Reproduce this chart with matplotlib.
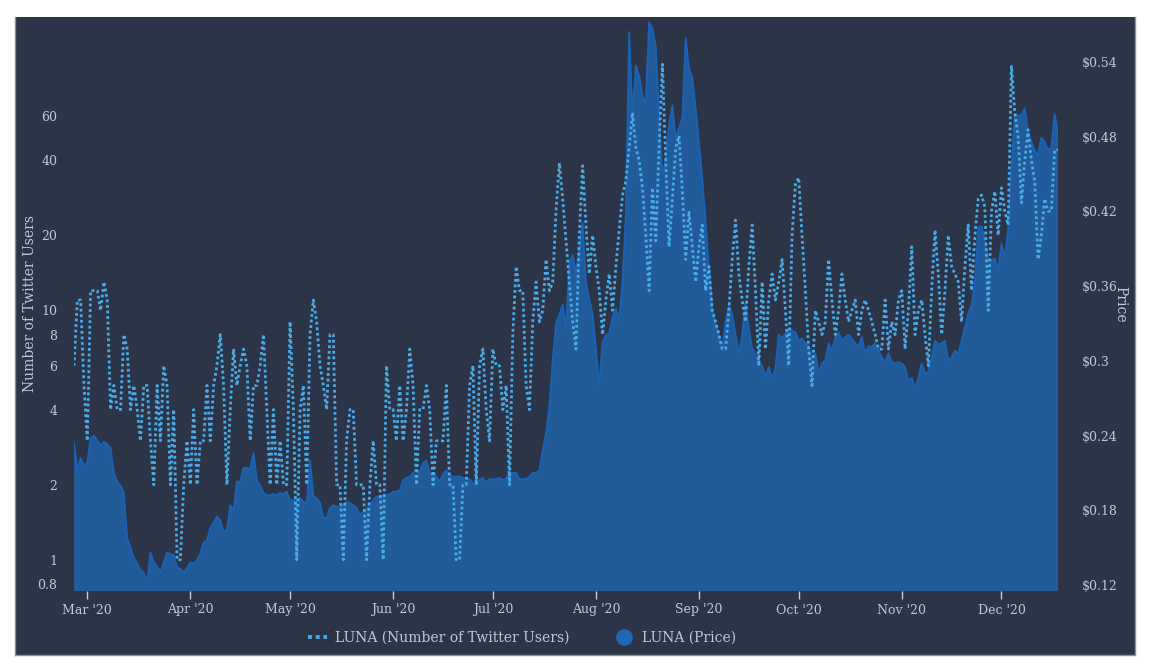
import matplotlib
matplotlib.use("Agg")
import matplotlib.pyplot as plt
from matplotlib.patches import Rectangle
from matplotlib.lines import Line2D
import pandas as pd

start_date = "2020-02-26"

twitter_users = [
    6, 11, 11, 5, 3, 12, 12, 12, 10, 13, 11, 4, 5, 4, 4, 8, 7, 4, 5, 4,
    3, 5, 5, 3, 2, 5, 3, 6, 5, 2, 4, 1, 1, 2, 3, 2, 4, 2, 3, 3,
    5, 3, 5, 6, 8, 5, 2, 4, 7, 5, 6, 7, 6, 3, 5, 5, 6, 8, 4, 2,
    4, 2, 3, 2, 2, 9, 4, 1, 4, 5, 2, 8, 11, 9, 6, 5, 4, 8, 8, 2,
    2, 1, 3, 4, 4, 2, 2, 2, 1, 2, 3, 2, 2, 1, 6, 4, 4, 3, 5, 3,
    4, 7, 5, 2, 4, 4, 5, 4, 2, 3, 3, 3, 5, 2, 2, 1, 1, 2, 2, 5,
    6, 2, 6, 7, 4, 3, 7, 6, 6, 4, 5, 2, 8, 15, 12, 12, 5, 4, 9, 13,
    9, 10, 16, 12, 13, 25, 39, 28, 19, 13, 9, 7, 20, 38, 22, 14, 20, 15, 12, 8,
    11, 14, 10, 15, 21, 29, 33, 45, 62, 45, 40, 31, 20, 12, 31, 19, 45, 97, 40, 18,
    28, 45, 50, 30, 16, 25, 18, 13, 18, 22, 12, 15, 10, 9, 8, 7, 7, 10, 16, 23,
    14, 11, 9, 15, 22, 12, 6, 13, 7, 11, 14, 11, 13, 16, 10, 6, 20, 32, 34, 20,
    12, 7, 5, 10, 9, 8, 9, 16, 11, 8, 10, 14, 11, 9, 10, 11, 8, 10, 11, 10,
    9, 8, 7, 7, 11, 7, 9, 8, 11, 12, 7, 10, 18, 8, 10, 11, 8, 6, 12, 21,
    14, 8, 12, 20, 15, 14, 13, 9, 15, 22, 12, 20, 28, 29, 26, 10, 25, 30, 20, 31,
    25, 22, 95, 62, 50, 27, 40, 53, 40, 33, 16, 20, 28, 25, 25, 44, 44,
]

price_usd = [
    0.234, 0.212, 0.222, 0.216, 0.218, 0.238, 0.240, 0.236, 0.232, 0.235,
    0.233, 0.230, 0.210, 0.203, 0.200, 0.194, 0.158, 0.150, 0.142, 0.137,
    0.132, 0.130, 0.122, 0.146, 0.138, 0.135, 0.130, 0.138, 0.146, 0.145,
    0.144, 0.134, 0.133, 0.130, 0.134, 0.138, 0.137, 0.140, 0.145, 0.154,
    0.156, 0.166, 0.170, 0.175, 0.172, 0.163, 0.164, 0.184, 0.180, 0.203,
    0.203, 0.214, 0.214, 0.213, 0.226, 0.204, 0.200, 0.194, 0.192, 0.192,
    0.193, 0.192, 0.194, 0.193, 0.195, 0.188, 0.188, 0.188, 0.190, 0.187,
    0.186, 0.220, 0.191, 0.190, 0.186, 0.174, 0.174, 0.182, 0.184, 0.183,
    0.182, 0.184, 0.187, 0.186, 0.184, 0.182, 0.176, 0.179, 0.181, 0.184,
    0.188, 0.191, 0.191, 0.192, 0.192, 0.193, 0.195, 0.195, 0.196, 0.204,
    0.206, 0.207, 0.210, 0.207, 0.211, 0.218, 0.220, 0.210, 0.209, 0.207,
    0.203, 0.209, 0.212, 0.208, 0.207, 0.207, 0.207, 0.206, 0.206, 0.205,
    0.202, 0.200, 0.205, 0.206, 0.202, 0.205, 0.205, 0.205, 0.206, 0.204,
    0.206, 0.210, 0.210, 0.210, 0.205, 0.205, 0.205, 0.207, 0.210, 0.210,
    0.212, 0.228, 0.242, 0.263, 0.300, 0.330, 0.337, 0.345, 0.326, 0.379,
    0.385, 0.371, 0.390, 0.411, 0.363, 0.350, 0.337, 0.310, 0.280, 0.315,
    0.321, 0.322, 0.335, 0.342, 0.333, 0.363, 0.417, 0.564, 0.497, 0.537,
    0.529, 0.513, 0.507, 0.572, 0.567, 0.552, 0.497, 0.449, 0.462, 0.489,
    0.505, 0.479, 0.487, 0.495, 0.559, 0.535, 0.527, 0.503, 0.475, 0.446,
    0.411, 0.374, 0.342, 0.329, 0.321, 0.310, 0.331, 0.345, 0.337, 0.321,
    0.305, 0.321, 0.347, 0.326, 0.310, 0.305, 0.299, 0.296, 0.287, 0.295,
    0.286, 0.294, 0.321, 0.318, 0.322, 0.326, 0.324, 0.323, 0.316, 0.318,
    0.314, 0.312, 0.303, 0.306, 0.290, 0.298, 0.300, 0.314, 0.308, 0.319,
    0.323, 0.316, 0.319, 0.321, 0.318, 0.314, 0.312, 0.319, 0.306, 0.312,
    0.311, 0.314, 0.308, 0.303, 0.299, 0.306, 0.299, 0.298, 0.299, 0.298,
    0.295, 0.284, 0.286, 0.278, 0.286, 0.298, 0.290, 0.291, 0.303, 0.316,
    0.313, 0.314, 0.316, 0.300, 0.303, 0.308, 0.306, 0.316, 0.327, 0.338,
    0.345, 0.362, 0.407, 0.408, 0.397, 0.382, 0.381, 0.382, 0.373, 0.394,
    0.383, 0.405, 0.455, 0.498, 0.497, 0.497, 0.503, 0.483, 0.476, 0.469,
    0.465, 0.479, 0.476, 0.469, 0.472, 0.498, 0.483,
]

left_ticks = [0.8, 1, 2, 4, 6, 8, 10, 20, 40, 60]
left_tick_labels = ["0.8", "1", "2", "4", "6", "8", "10", "20", "40", "60"]
right_ticks = [0.12, 0.18, 0.24, 0.30, 0.36, 0.42, 0.48, 0.54]
right_tick_labels = ["$0.12", "$0.18", "$0.24", "$0.3", "$0.36", "$0.42", "$0.48", "$0.54"]
month_ticks = ["2020-03-01", "2020-04-01", "2020-05-01", "2020-06-01", "2020-07-01",
               "2020-08-01", "2020-09-01", "2020-10-01", "2020-11-01", "2020-12-01"]
month_labels = ["Mar '20", "Apr '20", "May '20", "Jun '20", "Jul '20",
                "Aug '20", "Sep '20", "Oct '20", "Nov '20", "Dec '20"]

n = min(len(twitter_users), len(price_usd))
dates = pd.date_range(start_date, periods=n, freq="D")

BG = "#2c3548"
TXT = "#c3c8d2"
FILL = "#215b99"
EDGE = "#1a62b6"
DOT = "#4aaae8"
FONT = "DejaVu Serif"

W, H = 1162, 668
fig = plt.figure(figsize=(W / 100, H / 100), dpi=100, facecolor="white")
fig.patches.append(Rectangle((15 / W, 1 - 655 / H), 1120 / W, 638 / H,
                             transform=fig.transFigure, facecolor=BG,
                             edgecolor="none", zorder=-5))
# thin border on left, right and bottom of the panel
for xs, ys in (((15, 15), (17, 655)), ((1135, 1135), (17, 655)), ((15, 1135), (655, 655))):
    fig.add_artist(Line2D([x / W for x in xs], [1 - y / H for y in ys],
                          transform=fig.transFigure, color="#8c919b", linewidth=1.0, zorder=-4))

left, right, top, bottom = 74, 1058, 17, 591
ax_p = fig.add_axes([left / W, 1 - bottom / H, (right - left) / W, (bottom - top) / H])
ax_p.set_zorder(1)
ax_p.set_facecolor(BG)
ax_p.fill_between(dates, price_usd[:n], 0, color=FILL, linewidth=0, zorder=1)
ax_p.plot(dates, price_usd[:n], color=EDGE, linewidth=1.3, zorder=2)

ax_t = ax_p.twinx()
ax_t.set_zorder(2)
ax_t.patch.set_visible(False)
ax_t.set_yscale("log")
ax_t.plot(dates, twitter_users[:n], color=DOT, linewidth=2.0,
          linestyle=(0, (1, 1)), dash_capstyle="butt", zorder=3)

# price axis on the right
ax_p.set_ylim(0.1152, 0.576)
ax_p.yaxis.tick_right()
ax_p.yaxis.set_label_position("right")
ax_p.set_yticks(right_ticks)
ax_p.set_yticklabels(right_tick_labels)
ax_p.tick_params(axis="y", which="both", left=False, labelleft=False,
                 right=False, labelright=True, length=0, pad=17,
                 labelcolor=TXT, labelsize=9)
ax_p.set_ylabel("Price", rotation=270, color=TXT, fontsize=10, family=FONT,
                labelpad=7)

# twitter axis on the left
ax_t.yaxis.tick_left()
ax_t.yaxis.set_label_position("left")
ax_t.set_ylim(0.75, 150)
ax_t.yaxis.set_major_locator(matplotlib.ticker.FixedLocator(left_ticks))
ax_t.yaxis.set_minor_locator(matplotlib.ticker.NullLocator())
ax_t.set_yticklabels(left_tick_labels)
ax_t.tick_params(axis="y", which="both", right=False, labelright=False,
                 left=False, labelleft=True, length=0, pad=12,
                 labelcolor=TXT, labelsize=9)
ax_t.set_ylabel("Number of Twitter Users", color=TXT, fontsize=10, family=FONT,
                labelpad=0)

ax_p.set_xlim(dates[0], dates[n - 1])
ax_p.set_xticks(pd.to_datetime(month_ticks))
ax_p.set_xticklabels(month_labels)
ax_p.tick_params(axis="x", length=6, width=1, color="#c8ccd6", pad=3,
                 labelcolor=TXT, labelsize=9)
ax_t.tick_params(axis="x", length=0, labelbottom=False)

for ax in (ax_p, ax_t):
    for s in ax.spines.values():
        s.set_visible(False)
    for lbl in ax.get_xticklabels() + ax.get_yticklabels():
        lbl.set_family(FONT)

handles = [
    Line2D([0], [0], color=DOT, linewidth=2.8, linestyle=(0, (1, 1)), dash_capstyle="butt"),
    Line2D([0], [0], color=FILL, linestyle="none", marker="o", markersize=11,
           markerfacecolor="#1f66b3", markeredgecolor="#1f66b3"),
]
fig.legend(handles, ["LUNA (Number of Twitter Users)", "LUNA (Price)"],
           loc="center", bbox_to_anchor=(522 / W, 1 - 638 / H), ncol=2,
           frameon=False, handlelength=1.4, columnspacing=3.2, handletextpad=0.6,
           prop={"family": FONT, "size": 10}, labelcolor=TXT)

fig.savefig("out.png", dpi=100, facecolor="white")
